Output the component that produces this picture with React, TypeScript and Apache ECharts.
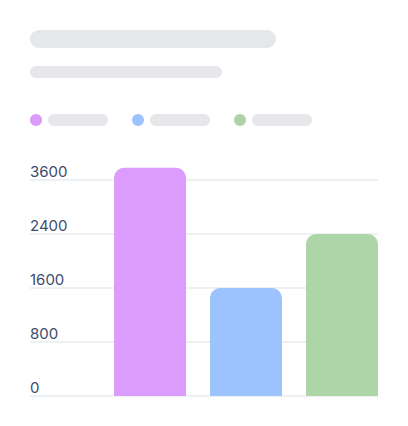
import React, { useEffect, useRef } from "react";
import * as echarts from "echarts";

const categories = ["A", "B", "C"];
const values = [3380, 1600, 2400];
const barColors = ["#DB9CFE", "#9CC3FD", "#ADD5A7"];
const tickLabels = ["0", "800", "1600", "2400", "3600"];
const skeleton = "#E5E7EA";

export default function App() {
  const ref = useRef<HTMLDivElement>(null);
  useEffect(() => {
    const chart = echarts.init(ref.current!, null, { renderer: "svg" });
    const legendX = [30, 132, 234];
    chart.setOption({
      animation: false,
      backgroundColor: "#ffffff",
      graphic: [
        { type: "rect", shape: { x: 30, y: 30, width: 246, height: 18, r: 9 }, style: { fill: skeleton } },
        { type: "rect", shape: { x: 30, y: 66, width: 192, height: 12, r: 6 }, style: { fill: skeleton } },
        ...legendX.flatMap((x, i) => [
          { type: "circle", shape: { cx: x + 6, cy: 120, r: 6 }, style: { fill: barColors[i] } },
          { type: "rect", shape: { x: x + 18, y: 114, width: 60, height: 12, r: 6 }, style: { fill: skeleton } },
        ]),
      ],
      grid: [
        { left: 30, right: 30, top: 180, bottom: 30 },
        { left: 102, right: 18, top: 126, bottom: 30 },
      ],
      xAxis: [
        { type: "category", gridIndex: 0, data: categories, show: false },
        { type: "category", gridIndex: 1, data: categories, show: false },
      ],
      yAxis: [
        {
          type: "value",
          gridIndex: 0,
          min: 0,
          max: 3200,
          interval: 800,
          axisLine: { show: false },
          axisTick: { show: false },
          splitLine: { lineStyle: { color: "#E9ECF0", width: 1.5 } },
          axisLabel: {
            inside: true,
            margin: 0,
            verticalAlign: "bottom",
            align: "left",
            fontFamily: "Inter",
            fontSize: 15,
            lineHeight: 18,
            color: "#3E4C6E",
            formatter: (_v: number, i: number) => tickLabels[i],
          },
        },
        {
          type: "value",
          gridIndex: 1,
          min: 0,
          max: 4000,
          show: false,
          splitLine: { show: false },
        },
      ],
      series: [
        {
          type: "bar",
          xAxisIndex: 1,
          yAxisIndex: 1,
          barWidth: 72,
          data: values.map((v, i) => ({
            value: v,
            itemStyle: { color: barColors[i], borderRadius: [10, 10, 0, 0] },
          })),
        },
      ],
    });
    return () => chart.dispose();
  }, []);
  return (
    <div
      ref={ref}
      style={{ position: "fixed", left: 0, top: 0, width: 408, height: 426 }}
    />
  );
}
